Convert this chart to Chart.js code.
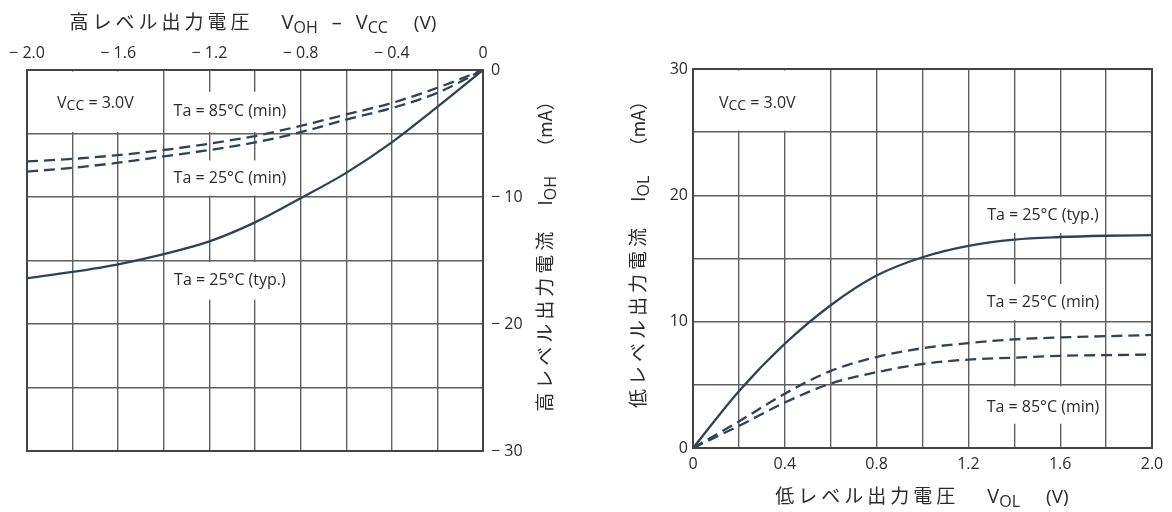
<!DOCTYPE html>
<html>
<head>
<meta charset="utf-8">
<script src="https://cdn.jsdelivr.net/npm/chart.js@4.4.1/dist/chart.umd.min.js"></script>
<style>
  body { margin: 0; background: #fff; width: 1172px; height: 512px; overflow: hidden; position: relative; }
  .pane { position: absolute; top: 0; width: 586px; height: 512px; }
</style>
</head>
<body>
<div class="pane" style="left:0"><canvas id="ohChart"></canvas></div>
<div class="pane" style="left:586px"><canvas id="olChart"></canvas></div>
<script>
/* ---------- data: high level output (left) ---------- */
const vohX = [-2.0, -1.8, -1.6, -1.4, -1.2, -1.0, -0.8, -0.6, -0.4, -0.2, 0];
const iohTyp = [-16.4, -15.9, -15.3, -14.5, -13.5, -12.0, -10.1, -8.1, -5.7, -2.9, 0];
const iohMin85 = [-7.2, -7.0, -6.7, -6.3, -5.8, -5.2, -4.4, -3.5, -2.6, -1.4, 0];
const iohMin25 = [-8.0, -7.7, -7.3, -6.8, -6.3, -5.7, -4.9, -3.9, -3.0, -1.8, 0];
const vohTicks = ["− 2.0", "", "− 1.6", "", "− 1.2", "", "− 0.8", "", "− 0.4", "", "0"];
const iohTicks = ["− 30", "", "− 20", "", "− 10", "", "0"];

/* ---------- data: low level output (right) ---------- */
const volX = [0, 0.2, 0.4, 0.6, 0.8, 1.0, 1.2, 1.4, 1.6, 1.8, 2.0];
const iolTyp = [0, 4.5, 8.25, 11.3, 13.65, 15.1, 16.0, 16.5, 16.7, 16.8, 16.85];
const iolMin25 = [0, 2.1, 4.3, 6.1, 7.2, 7.9, 8.3, 8.6, 8.75, 8.85, 8.95];
const iolMin85 = [0, 1.75, 3.6, 5.1, 6.0, 6.65, 7.0, 7.15, 7.3, 7.35, 7.4];
const volTicks = ["0", "", "0.4", "", "0.8", "", "1.2", "", "1.6", "", "2.0"];
const iolTicks = ["0", "", "10", "", "20", "", "30"];

/* ---------- look ---------- */
const INK = "#2f4352";
const GRID = "#606060";
const TXT = "#2b2b2b";
const JP = "'Noto Sans CJK JP'";
const LAT = "'Open Sans'";
const noteFont = "16px " + LAT;

const pts = (xs, ys) => xs.map((x, i) => ({ x: x, y: ys[i] }));

const curve = (label, data, dashed) => ({
  label: label,
  data: data,
  borderColor: INK,
  borderWidth: 2.3,
  borderDash: dashed ? [11, 6] : [],
  pointRadius: 0,
  fill: false,
  cubicInterpolationMode: "monotone",
});

/* draw a run of text pieces (for subscripts / spaced kana) */
function pieceWidth(ctx, p) {
  if (!p.ls) return ctx.measureText(p.t).width;
  let w = 0;
  for (const ch of p.t) w += ctx.measureText(ch).width + p.ls;
  return w;
}
function runWidth(ctx, parts) {
  let w = 0;
  parts.forEach(p => {
    ctx.font = p.f;
    w += pieceWidth(ctx, p) + (p.gap || 0);
  });
  return w;
}
function drawRun(ctx, parts, x, y, align) {
  let cx = align === "center" ? x - runWidth(ctx, parts) / 2 : x;
  ctx.textAlign = "left";
  parts.forEach(p => {
    ctx.font = p.f;
    if (p.ls) {
      for (const ch of p.t) {
        ctx.fillText(ch, cx, y + (p.dy || 0));
        cx += ctx.measureText(ch).width + p.ls;
      }
    } else {
      ctx.fillText(p.t, cx, y + (p.dy || 0));
      cx += ctx.measureText(p.t).width;
    }
    cx += p.gap || 0;
  });
}

const vcc = [
  { t: "V", f: "16px " + LAT },
  { t: "CC", f: "14px " + LAT, dy: 3 },
  { t: " = 3.0V", f: noteFont },
];

/* white label boxes sitting on the grid, with their text */
function notesPlugin(notes, titles) {
  return {
    id: "notes",
    beforeDatasetsDraw(chart) {
      const { ctx, scales: { x, y } } = chart;
      ctx.save();
      notes.forEach(n => {
        const [x0, x1, y0, y1] = n.box;
        const l = Math.min(x.getPixelForValue(x0), x.getPixelForValue(x1)) + 1.5;
        const r = Math.max(x.getPixelForValue(x0), x.getPixelForValue(x1)) - 1.5;
        const t = Math.min(y.getPixelForValue(y0), y.getPixelForValue(y1)) + 1.5;
        const b = Math.max(y.getPixelForValue(y0), y.getPixelForValue(y1)) - 1.5;
        ctx.fillStyle = "#fff";
        ctx.fillRect(l, t, r - l, b - t);
        ctx.fillStyle = TXT;
        ctx.textBaseline = "middle";
        drawRun(ctx, n.parts, x.getPixelForValue(n.at[0]), y.getPixelForValue(n.at[1]), "center");
      });
      ctx.restore();
    },
    afterDatasetsDraw(chart) {
      const { ctx, chartArea: a } = chart;
      ctx.save();
      ctx.strokeStyle = "#444";
      ctx.lineWidth = 2;
      ctx.strokeRect(a.left, a.top, a.right - a.left, a.bottom - a.top);
      ctx.fillStyle = TXT;
      ctx.textBaseline = "alphabetic";
      titles.forEach(tt => {
        ctx.save();
        ctx.translate(tt.x, tt.y);
        ctx.rotate(tt.rot || 0);
        drawRun(ctx, tt.parts, 0, 0, "center");
        ctx.restore();
      });
      ctx.restore();
    },
  };
}

function axis(opts) {
  return Object.assign({
    type: "linear",
    grid: { color: GRID, lineWidth: 1.4, drawTicks: false },
    border: { display: false },
  }, opts);
}

const tickFont = { family: "Open Sans", size: 16 };

/* ---------- left chart ---------- */
new Chart(document.getElementById("ohChart"), {
  type: "line",
  data: {
    datasets: [
      curve("Ta = 85°C (min)", pts(vohX, iohMin85), true),
      curve("Ta = 25°C (min)", pts(vohX, iohMin25), true),
      curve("Ta = 25°C (typ.)", pts(vohX, iohTyp), false),
    ],
  },
  options: {
    responsive: true,
    maintainAspectRatio: false,
    animation: false,
    layout: { padding: { left: 27, top: 0, right: 0, bottom: 61 } },
    plugins: { legend: { display: false }, tooltip: { enabled: false } },
    scales: {
      x: axis({
        position: "top", min: -2, max: 0,
        afterFit: s => { s.height = 70; },
        ticks: { stepSize: 0.2, autoSkip: false, maxRotation: 0, padding: 7, color: TXT, font: tickFont,
          callback: (v, i) => vohTicks[i] },
      }),
      y: axis({
        position: "right", min: -30, max: 0,
        afterFit: s => { s.width = 103; },
        ticks: { stepSize: 5, autoSkip: false, padding: 8, color: TXT, font: tickFont,
          callback: (v, i) => iohTicks[i] },
      }),
    },
  },
  plugins: [notesPlugin(
    [
      { box: [-2.0, -1.4, 0, -5], at: [-1.70, -2.6], parts: vcc },
      { box: [-1.4, -0.8, -1.6, -5], at: [-1.11, -3.3], parts: [{ t: "Ta = 85°C (min)", f: noteFont }] },
      { box: [-1.4, -0.8, -7.0, -10], at: [-1.11, -8.5], parts: [{ t: "Ta = 25°C (min)", f: noteFont }] },
      { box: [-1.4, -0.8, -15, -18.2], at: [-1.11, -16.6], parts: [{ t: "Ta = 25°C (typ.)", f: noteFont }] },
    ],
    [
      { x: 253, y: 29, parts: [
        { t: "高レベル出力電圧", f: "19px " + JP, ls: 4, gap: 28 },
        { t: "V", f: "20px " + LAT },
        { t: "OH", f: "16px " + LAT, dy: 4, gap: 14 },
        { t: "–", f: "20px " + LAT, gap: 14 },
        { t: "V", f: "20px " + LAT },
        { t: "CC", f: "16px " + LAT, dy: 4, gap: 26 },
        { t: "(V)", f: "19px " + LAT },
      ] },
      { x: 552, y: 252, rot: -Math.PI / 2, parts: [
        { t: "高レベル出力電流", f: "19px " + JP, ls: 4, gap: 22 },
        { t: "I", f: "20px " + LAT },
        { t: "OH", f: "16px " + LAT, dy: 4, gap: 20 },
        { t: "（mA）", f: "18px " + JP },
      ] },
    ]
  )],
});

/* ---------- right chart ---------- */
new Chart(document.getElementById("olChart"), {
  type: "line",
  data: {
    datasets: [
      curve("Ta = 25°C (typ.)", pts(volX, iolTyp), false),
      curve("Ta = 25°C (min)", pts(volX, iolMin25), true),
      curve("Ta = 85°C (min)", pts(volX, iolMin85), true),
    ],
  },
  options: {
    responsive: true,
    maintainAspectRatio: false,
    animation: false,
    layout: { padding: { left: 0, top: 69, right: 20, bottom: 0 } },
    plugins: { legend: { display: false }, tooltip: { enabled: false } },
    scales: {
      x: axis({
        position: "bottom", min: 0, max: 2,
        afterFit: s => { s.height = 64; },
        ticks: { stepSize: 0.2, autoSkip: false, maxRotation: 0, padding: 7, color: TXT, font: tickFont,
          callback: (v, i) => volTicks[i] },
      }),
      y: axis({
        position: "left", min: 0, max: 30,
        afterFit: s => { s.width = 107; },
        ticks: { stepSize: 5, autoSkip: false, padding: 5, color: TXT, font: tickFont,
          callback: (v, i) => iolTicks[i] },
      }),
    },
  },
  plugins: [notesPlugin(
    [
      { box: [0, 0.6, 25, 30], at: [0.28, 27.3], parts: vcc },
      { box: [1.2, 1.8, 16.9, 20], at: [1.525, 18.4], parts: [{ t: "Ta = 25°C (typ.)", f: noteFont }] },
      { box: [1.2, 1.8, 10, 13.1], at: [1.525, 11.5], parts: [{ t: "Ta = 25°C (min)", f: noteFont }] },
      { box: [1.2, 1.8, 1.8, 5], at: [1.525, 3.25], parts: [{ t: "Ta = 85°C (min)", f: noteFont }] },
    ],
    [
      { x: 336, y: 503, parts: [
        { t: "低レベル出力電圧", f: "19px " + JP, ls: 4, gap: 28 },
        { t: "V", f: "20px " + LAT },
        { t: "OL", f: "16px " + LAT, dy: 4, gap: 26 },
        { t: "(V)", f: "19px " + LAT },
      ] },
      { x: 59, y: 250, rot: -Math.PI / 2, parts: [
        { t: "低レベル出力電流", f: "19px " + JP, ls: 4, gap: 22 },
        { t: "I", f: "20px " + LAT },
        { t: "OL", f: "16px " + LAT, dy: 4, gap: 20 },
        { t: "（mA）", f: "18px " + JP },
      ] },
    ]
  )],
});
</script>
</body>
</html>
